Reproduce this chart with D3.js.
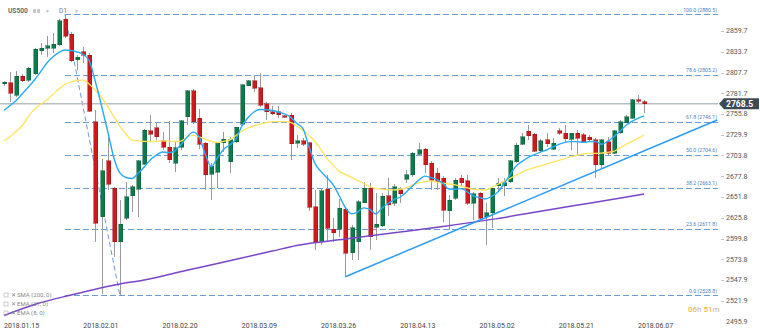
<!DOCTYPE html>
<html>
<head>
<meta charset="utf-8">
<script src="https://cdn.jsdelivr.net/npm/d3@7"></script>
<style>
  html, body { margin: 0; padding: 0; background: #fff; }
  svg { display: block; font-family: Roboto, "Open Sans", sans-serif; }
</style>
</head>
<body>
<svg id="chart" width="760" height="336"></svg>
<script>
// US500, daily candles (2018.01.15 – 2018.06.08)
const opens = [2793.8,2795.0,2779.5,2803.3,2798.3,2805.9,2835.0,2838.4,2838.0,2842.2,
  2874.7,2855.6,2823.4,2833.8,2829.6,2746.1,2627.2,2696.9,2662.7,2595.8,
  2625.2,2653.1,2661.5,2693.1,2734.5,2738.6,2722.0,2714.1,2694.0,2714.1,
  2752.4,2785.0,2750.4,2719.1,2680.6,2682.8,2719.9,2696.0,2721.1,2743.2,
  2791.2,2797.1,2788.7,2768.3,2758.6,2758.6,2753.6,2754.5,2719.1,2722.0,
  2719.9,2639.7,2596.7,2661.5,2611.4,2611.4,2636.4,2582.1,2595.8,2644.7,
  2662.7,2613.9,2615.5,2653.4,2644.0,2660.6,2674.0,2679.4,2705.3,2711.5,
  2694.0,2681.5,2675.2,2634.7,2650.2,2675.2,2671.9,2643.9,2656.5,2627.2,
  2632.2,2665.6,2666.0,2671.0,2696.0,2717.8,2734.1,2730.3,2709.8,2723.2,
  2711.9,2734.5,2731.6,2724.1,2731.6,2729.5,2726.6,2723.2,2691.9,2721.1,
  2706.5,2732.3,2744.9,2750.4,2773.3,2771.1];
const highs = [2797.1,2808.7,2810.0,2805.9,2815.0,2838.0,2844.3,2853.4,2856.8,2874.4,
  2880.5,2858.8,2829.6,2840.0,2831.8,2760.8,2699.0,2727.3,2664.7,2648.1,
  2671.0,2666.8,2698.2,2736.6,2754.5,2746.1,2733.6,2747.4,2721.1,2748.2,
  2785.8,2786.7,2761.6,2721.1,2694.0,2719.9,2733.6,2726.6,2739.9,2793.3,
  2798.3,2804.6,2806.7,2771.2,2765.8,2766.2,2754.5,2756.6,2729.5,2725.3,
  2721.1,2660.6,2662.2,2679.4,2625.2,2649.0,2637.7,2616.8,2648.0,2671.0,
  2669.0,2656.5,2657.0,2675.0,2668.0,2664.7,2686.0,2708.6,2719.0,2712.7,
  2696.9,2688.0,2678.0,2654.0,2676.0,2679.0,2679.4,2658.5,2658.5,2643.9,
  2663.5,2675.2,2675.2,2698.2,2719.1,2732.3,2742.0,2731.6,2724.1,2732.3,
  2726.1,2737.9,2742.0,2732.3,2735.7,2731.6,2729.5,2725.3,2724.1,2727.3,
  2735.7,2748.2,2754.5,2774.2,2779.6,2773.3];
const lows = [2790.8,2771.2,2777.4,2796.2,2796.2,2804.6,2829.6,2827.5,2831.8,2840.9,
  2850.6,2821.3,2810.9,2819.3,2758.6,2595.8,2530.3,2660.6,2577.1,2528.8,
  2623.0,2633.4,2627.2,2691.5,2721.1,2723.2,2710.7,2694.0,2683.5,2710.7,
  2742.0,2743.2,2711.6,2660.6,2648.1,2663.5,2708.6,2682.3,2719.9,2742.0,
  2790.4,2783.7,2764.9,2748.2,2754.5,2750.4,2750.4,2698.2,2712.8,2715.7,
  2634.6,2585.4,2591.7,2595.8,2595.8,2602.1,2552.0,2572.9,2572.9,2643.9,
  2585.4,2597.9,2614.0,2628.0,2641.0,2644.0,2669.0,2677.3,2704.0,2681.5,
  2660.6,2660.6,2620.0,2610.5,2648.0,2666.0,2641.8,2623.0,2623.0,2591.7,
  2612.6,2658.5,2653.1,2669.0,2694.8,2716.9,2723.2,2708.6,2708.6,2714.8,
  2710.7,2729.5,2721.1,2710.7,2704.4,2719.1,2721.1,2675.2,2687.8,2704.4,
  2705.7,2730.7,2744.1,2749.1,2769.2,2757.0];
const closes = [2795.3,2781.7,2803.3,2797.1,2813.0,2836.8,2838.4,2841.3,2843.0,2872.6,
  2853.1,2822.5,2826.8,2829.6,2759.5,2618.9,2684.4,2667.7,2595.8,2618.0,
  2652.2,2664.7,2696.9,2735.7,2730.7,2727.3,2714.1,2698.2,2713.6,2747.4,
  2784.6,2746.1,2717.8,2679.4,2690.6,2719.1,2724.1,2723.2,2739.1,2792.1,
  2797.1,2787.9,2767.0,2758.6,2755.8,2754.9,2751.6,2718.2,2722.3,2717.8,
  2638.9,2595.8,2659.7,2612.6,2607.1,2637.7,2581.3,2613.4,2645.8,2662.7,
  2602.1,2618.0,2653.0,2641.8,2664.7,2655.6,2679.4,2706.5,2710.7,2691.9,
  2673.1,2671.0,2635.5,2648.0,2673.1,2669.7,2644.0,2655.6,2625.2,2632.2,
  2662.7,2669.0,2669.7,2696.9,2716.9,2727.3,2728.6,2709.4,2722.3,2718.2,
  2719.1,2731.6,2724.5,2731.6,2725.3,2721.1,2723.2,2691.9,2723.2,2706.5,
  2734.9,2746.1,2752.4,2773.3,2772.0,2768.5];

// Indicator values per candle
const ema8 = [2760.1,2766.4,2772.8,2781.1,2789.6,2798.3,2808.7,2819.3,2827.1,2832.8,
  2835.9,2835.2,2833.4,2830.3,2822.1,2795.8,2765.8,2734.5,2701.3,2681.9,
  2676.2,2675.0,2681.5,2689.4,2698.4,2704.2,2708.2,2707.5,2709.7,2717.2,
  2726.5,2733.0,2727.1,2705.7,2689.8,2700.7,2711.4,2716.9,2723.7,2740.5,
  2751.0,2758.3,2761.3,2761.1,2760.1,2758.3,2755.9,2751.8,2744.1,2738.2,
  2715.7,2693.9,2683.6,2675.6,2667.0,2653.1,2638.5,2630.8,2633.0,2638.2,
  2636.2,2630.5,2638.0,2643.7,2648.6,2651.8,2658.1,2665.6,2672.7,2677.9,
  2676.2,2673.6,2668.9,2661.8,2661.6,2662.3,2658.3,2653.1,2651.2,2649.3,
  2652.7,2658.1,2668.1,2679.4,2690.6,2696.5,2701.5,2705.0,2708.1,2710.7,
  2714.4,2717.8,2720.3,2721.1,2721.1,2720.4,2721.1,2721.3,2717.8,2721.4,
  2727.0,2733.8,2741.4,2746.6,2750.4,2753.3];
const ema21 = [2722.0,2727.7,2734.1,2741.4,2752.8,2761.9,2767.9,2773.3,2780.2,2787.1,
  2793.0,2796.0,2797.8,2798.1,2793.0,2785.4,2776.7,2765.3,2752.8,2740.2,
  2730.7,2723.0,2722.2,2721.4,2721.3,2721.6,2722.0,2721.7,2721.3,2721.7,
  2727.0,2729.0,2727.0,2724.0,2721.7,2719.9,2721.6,2723.1,2728.5,2734.1,
  2738.2,2740.9,2743.0,2744.9,2746.1,2746.1,2746.1,2745.4,2740.7,2735.6,
  2729.0,2721.3,2710.9,2699.8,2692.0,2683.9,2680.1,2676.4,2672.6,2668.7,
  2664.8,2662.3,2661.8,2660.7,2660.8,2661.5,2663.2,2666.6,2669.4,2671.0,
  2672.1,2670.6,2669.1,2668.1,2667.1,2665.3,2663.3,2661.5,2661.1,2660.6,
  2663.7,2667.6,2671.5,2675.2,2679.0,2683.0,2686.3,2688.5,2690.8,2693.1,
  2695.4,2697.7,2699.9,2702.4,2704.0,2705.7,2706.5,2706.5,2706.8,2707.7,
  2708.8,2713.3,2717.6,2721.4,2725.3,2729.5];
const sma200Idx = [0, 5, 11, 19, 23, 30, 37, 44, 48, 56, 64, 72, 80, 88, 96, 105];
const sma200 = [2503.4,2517.2,2529.1,2542.9,2547.9,2560.2,2571.9,2584.1,2591.1,2599.1,
  2607.0,2614.9,2623.8,2633.9,2644.1,2655.6];

// Axis labels
const dateTickIdx = [0, 13, 26, 39, 52, 65, 78, 91, 104];
const dateTickLabels = ["2018.01.15","2018.02.01","2018.02.20","2018.03.09","2018.03.26",
  "2018.04.13","2018.05.02","2018.05.21","2018.06.07"];
const priceTicks = [2859.7,2833.7,2807.7,2781.7,2755.8,2729.9,2703.8,2677.8,2651.8,
  2625.8,2599.8,2573.8,2547.9,2521.9,2495.9];

// Fibonacci retracement drawn from the January high to the February low
const fibLevels = ["0.0","23.6","38.2","50.0","61.8","78.6","100.0"];
const fibPrices = [2528.8, 2611.8, 2663.1, 2704.6, 2746.1, 2805.2, 2880.5];
const fibSwingIdx = [10, 19];
const fibSwingPrice = [2880.5, 2528.8];

// Rising support line from the April low
const trendIdx = [56, 117];
const trendPrice = [2552.0, 2748.2];

const lastPrice = 2768.5;
const legendItems = ["SMA (200, 0)", "EMA (21, 0)", "EMA (8, 0)"];

const svg = d3.select("#chart");
const plotRight = 718;

const x = d3.scaleLinear().domain([-0.66, 117.12]).range([0, plotRight]);
const y = d3.scaleLinear().domain([2495.9, 2859.7]).range([321.5, 31]);

const blueDash = "#6a9cd6";

// Fibonacci levels
const fibG = svg.append("g");
fibG.selectAll("line").data(fibPrices).join("line")
  .attr("x1", x(fibSwingIdx[0])).attr("x2", plotRight)
  .attr("y1", d => Math.round(y(d)) + 0.5).attr("y2", d => Math.round(y(d)) + 0.5)
  .attr("stroke", blueDash).attr("stroke-width", 1).attr("stroke-dasharray", "6,3");
fibG.selectAll("text").data(fibPrices).join("text")
  .attr("x", plotRight - 1).attr("y", d => y(d) - 2.5)
  .attr("text-anchor", "end").attr("font-size", 5.2).attr("fill", "#4a80c2")
  .text((d, i) => `${fibLevels[i]} (${d.toFixed(1)})`);
fibG.append("line")
  .attr("x1", x(fibSwingIdx[0])).attr("y1", y(fibSwingPrice[0]))
  .attr("x2", x(fibSwingIdx[1])).attr("y2", y(fibSwingPrice[1]))
  .attr("stroke", blueDash).attr("stroke-width", 1).attr("stroke-dasharray", "5,3");

// Last price line
svg.append("line")
  .attr("x1", 0).attr("x2", plotRight)
  .attr("y1", y(lastPrice)).attr("y2", y(lastPrice))
  .attr("stroke", "#b8bfc4").attr("stroke-width", 1.5);

// Candles
const candles = opens.map((o, i) => ({ i, o, h: highs[i], l: lows[i], c: closes[i] }));
const cg = svg.append("g").attr("shape-rendering", "crispEdges");
cg.selectAll("line").data(candles).join("line")
  .attr("x1", d => Math.round(x(d.i)) + 0.5).attr("x2", d => Math.round(x(d.i)) + 0.5)
  .attr("y1", d => y(d.h)).attr("y2", d => y(d.l))
  .attr("stroke", "#9a9a9a").attr("stroke-width", 1);
cg.selectAll("rect").data(candles).join("rect")
  .attr("x", d => Math.round(x(d.i)) - 1.5)
  .attr("width", 4)
  .attr("y", d => y(Math.max(d.o, d.c)))
  .attr("height", d => Math.max(1.2, Math.abs(y(d.o) - y(d.c))))
  .attr("fill", d => d.c >= d.o ? "#0c7a4b" : "#cc1a1f")
  .attr("stroke", d => d.c >= d.o ? "#0a5e3a" : "#9e1216")
  .attr("stroke-width", 0.5);

// Moving averages
const maLine = d3.line().x(d => x(d[0])).y(d => y(d[1])).curve(d3.curveMonotoneX);
svg.append("path")
  .attr("d", maLine(sma200Idx.map((k, j) => [k, sma200[j]])))
  .attr("fill", "none").attr("stroke", "#7a45c8").attr("stroke-width", 1.5);
svg.append("path")
  .attr("d", maLine(ema21.map((v, i) => [i, v])))
  .attr("fill", "none").attr("stroke", "#ffe45a").attr("stroke-width", 1.3);
svg.append("path")
  .attr("d", maLine(ema8.map((v, i) => [i, v])))
  .attr("fill", "none").attr("stroke", "#2aaaf2").attr("stroke-width", 1.4);

// Support line
svg.append("line")
  .attr("x1", x(trendIdx[0])).attr("y1", y(trendPrice[0]))
  .attr("x2", x(trendIdx[1])).attr("y2", y(trendPrice[1]))
  .attr("stroke", "#2a9cf4").attr("stroke-width", 1.5);

// Price axis
const ax = svg.append("g");
ax.selectAll("line").data(priceTicks.slice(0, -1)).join("line")
  .attr("x1", 721).attr("x2", 724)
  .attr("y1", d => Math.round(y(d)) + 0.5).attr("y2", d => Math.round(y(d)) + 0.5)
  .attr("stroke", "#c4c4c4");
ax.selectAll("text").data(priceTicks).join("text")
  .attr("x", 726).attr("y", d => y(d)).attr("dy", "0.35em")
  .attr("font-size", 7).attr("fill", "#555")
  .text(d => d.toFixed(1));

// Last price tag
const ly = y(lastPrice);
svg.append("path")
  .attr("d", `M719,${ly} L724,${ly - 5.5} L759,${ly - 5.5} L759,${ly + 5.5} L724,${ly + 5.5} Z`)
  .attr("fill", "#3c4a54");
svg.append("text")
  .attr("x", 726).attr("y", ly).attr("dy", "0.36em")
  .attr("font-size", 8.6).attr("font-weight", 700).attr("fill", "#fff")
  .text(lastPrice.toFixed(1));

// Date axis
svg.append("g").selectAll("text").data(dateTickIdx).join("text")
  .attr("x", d => x(d)).attr("y", 328)
  .attr("font-size", 7).attr("fill", "#444")
  .text((d, i) => dateTickLabels[i]);

// Candle countdown
const cd = svg.append("text").attr("x", 688).attr("y", 312).attr("font-size", 8);
[["06", "#f5a623"], ["h ", "#b0b0b0"], ["51", "#f5a623"], ["m", "#b0b0b0"]]
  .forEach(([t, c]) => cd.append("tspan").attr("fill", c).text(t));

// Instrument header
svg.append("text").attr("x", 8).attr("y", 13)
  .attr("font-size", 6.6).attr("font-weight", 700).attr("fill", "#6a6a6a").text("US500");
svg.append("rect").attr("x", 33).attr("y", 9).attr("width", 3).attr("height", 4).attr("fill", "#c8c8c8");
svg.append("rect").attr("x", 37).attr("y", 9).attr("width", 3).attr("height", 4).attr("fill", "#c8c8c8");
svg.append("text").attr("x", 45).attr("y", 13).attr("font-size", 5).attr("fill", "#bbb").text("▼");
svg.append("text").attr("x", 59).attr("y", 13)
  .attr("font-size", 6.6).attr("fill", "#777").text("D1");
svg.append("text").attr("x", 74).attr("y", 13).attr("font-size", 5).attr("fill", "#bbb").text("▼");

// Indicator legend
const lg = svg.append("g");
legendItems.forEach((t, i) => {
  const ty = 297 + i * 9;
  lg.append("rect").attr("x", 4).attr("y", ty - 4).attr("width", 4).attr("height", 4)
    .attr("fill", "none").attr("stroke", "#aaa").attr("stroke-width", 0.6);
  lg.append("text").attr("x", 11).attr("y", ty).attr("font-size", 5.5).attr("fill", "#888").text("✕");
  lg.append("text").attr("x", 17).attr("y", ty).attr("font-size", 6).attr("fill", "#888").text(t);
});
</script>
</body>
</html>
